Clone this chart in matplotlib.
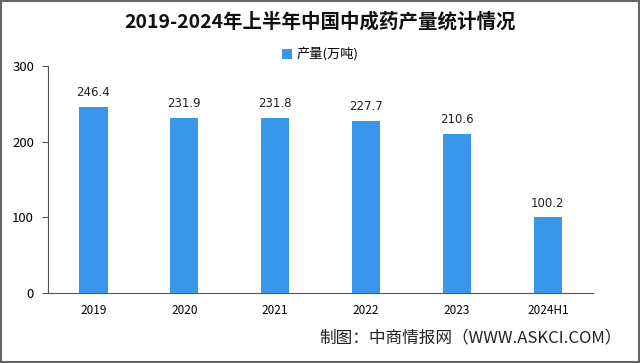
import matplotlib
matplotlib.use("Agg")
import matplotlib.pyplot as plt
from matplotlib.patches import Rectangle

plt.rcParams['font.family'] = ['Noto Sans CJK SC', 'DejaVu Sans']

categories = ["2019", "2020", "2021", "2022", "2023", "2024H1"]
values = [246.4, 231.9, 231.8, 227.7, 210.6, 100.2]
yticks = [0, 100, 200, 300]

fig = plt.figure(figsize=(6.4, 3.63), dpi=100)
ax = fig.add_axes([0.075, 0.193, 0.852, 0.625])

x = list(range(len(categories)))
ax.bar(x, values, width=0.31, color="#3a96ea", label="产量(万吨)", zorder=2)
for xi, v in zip(x, values):
    ax.text(xi, v + 10, f"{v:.1f}", ha="center", va="bottom", fontsize=8.5,
            family=["DejaVu Sans"], color="#222222")

ax.set_xlim(-0.5, len(categories) - 0.5)
ax.set_ylim(0, 300)
ax.set_yticks(yticks)
ax.set_xticks(x)
ax.set_xticklabels(categories, fontsize=8.5)
ax.tick_params(axis="x", length=0, pad=8)
ax.tick_params(axis="y", length=4, labelsize=9.5, pad=6, color="#555555")
for s in ["top", "right"]:
    ax.spines[s].set_visible(False)
for s in ["left", "bottom"]:
    ax.spines[s].set_color("#555555")
    ax.spines[s].set_linewidth(0.8)

fig.text(0.5, 0.94, "2019-2024年上半年中国中成药产量统计情况", ha="center", va="center",
         fontsize=14, fontweight="bold", color="#111111")
leg = fig.legend(loc="center", bbox_to_anchor=(0.5, 0.85), frameon=False, fontsize=9.5,
                 handlelength=0.8, handleheight=0.8, handletextpad=0.3)
fig.text(0.972, 0.068, "制图：中商情报网（WWW.ASKCI.COM）", ha="right", va="center",
         fontsize=12, color="#222222")

fig.patches.append(Rectangle((0.002, 0.003), 0.996, 0.994, transform=fig.transFigure,
                             fill=False, edgecolor="#666666", linewidth=1.5))

fig.savefig("out.png", dpi=100)
